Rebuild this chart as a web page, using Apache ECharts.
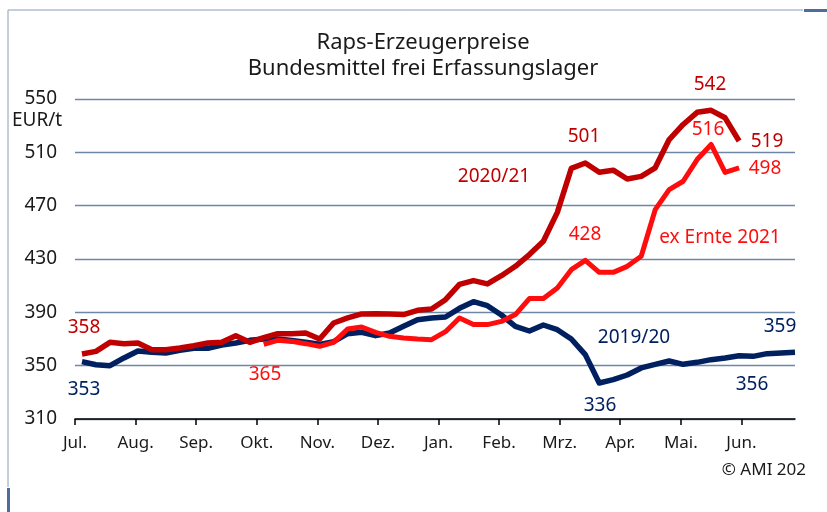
<!DOCTYPE html>
<html>
<head>
<meta charset="utf-8">
<script src="https://cdn.jsdelivr.net/npm/echarts@6/dist/echarts.min.js"></script>
<style>
  html, body { margin: 0; padding: 0; background: #fff; }
  #container { width: 827px; height: 512px; }
</style>
</head>
<body>
<div id="container"></div>
<script>
// Wochenwerte, EUR/t
const months = ['Jul.', 'Aug.', 'Sep.', 'Okt.', 'Nov.', 'Dez.', 'Jan.', 'Feb.', 'Mrz.', 'Apr.', 'Mai.', 'Jun.'];
const yTicks = [310, 350, 390, 430, 470, 510, 550];

const wj1920 = [353, 350.7, 350, 355.8, 361, 360, 359.5, 361.5, 363, 363, 365.5, 367, 369,
  370, 370, 368.8, 367.5, 366, 368, 374, 375, 372.5, 374.5, 379.5, 384.5, 385.8, 386.5,
  393, 398, 395, 388, 379.5, 376, 380.5, 377, 370, 358.3, 337, 339.5, 343, 348.3, 351,
  353.5, 351, 352.5, 354.5, 355.8, 357.5, 357, 359, 359.5, 360];

const wj2021 = [358.8, 360.7, 367.5, 366.5, 367, 362, 362, 363.3, 365, 367, 367.5, 372.5,
  367.5, 371, 374, 374, 374.5, 370, 382, 385.8, 388.8, 389, 388.8, 388.3, 391.5, 392.5,
  399.5, 411, 413.8, 411.3, 417.5, 424.5, 433.3, 443.3, 465, 498, 502, 495, 496.6, 490,
  492, 498.4, 519.6, 530.9, 540, 541.5, 535.9, 518.5];

// ex Ernte 2021 beginnt in Woche 13 (Anfang Okt.)
const exErnteStart = 13;
const exErnte2021 = [366, 369, 368.2, 366.5, 364.5, 367.5, 377.5, 379, 375, 372, 370.8, 370,
  369.5, 375.5, 385.8, 380.8, 380.8, 383.2, 388.3, 400.3, 400.3, 408.3, 422, 429, 420, 420,
  424.5, 432, 467, 482, 488.3, 504.6, 515.9, 495, 498.4];

const weeksPerMonth = 52 / 12;
const monthPos = months.map((m, i) => i * weeksPerMonth);

const toPairs = (arr, start) => arr.map((v, i) => [start + i + 0.5, v]);

const DARKRED = '#c00000';
const RED = '#ff0d0d';
const NAVY = '#002060';
const FONT = '"Noto Sans", sans-serif';

function note(text, x, y, color) {
  return {
    type: 'text', x: x, y: y,
    style: { text: text, fill: color, font: '19px ' + FONT, align: 'center', verticalAlign: 'middle' }
  };
}

const myChart = echarts.init(document.getElementById('container'));
myChart.setOption({
  animation: false,
  title: {
    text: 'Raps-Erzeugerpreise\nBundesmittel frei Erfassungslager',
    left: 418, top: 25, textAlign: 'center',
    textStyle: { fontFamily: FONT, fontSize: 22, fontWeight: 'normal', color: '#1a1a1a', lineHeight: 26 }
  },
  grid: { left: 75, right: 32, top: 99, bottom: 93 },
  xAxis: {
    type: 'value',
    min: 0,
    max: 51.5,
    splitLine: { show: false },
    axisLine: { show: true, lineStyle: { color: '#000', width: 1.5 } },
    axisTick: { show: true, length: 6, lineStyle: { color: '#000', width: 1.5 }, customValues: monthPos },
    axisLabel: {
      customValues: monthPos,
      formatter: v => months[Math.round(v / weeksPerMonth)] || '',
      color: '#1a1a1a', fontFamily: FONT, fontSize: 17, margin: 16
    }
  },
  yAxis: {
    type: 'value',
    min: yTicks[0],
    max: yTicks[yTicks.length - 1],
    interval: 40,
    axisLine: { show: false },
    axisTick: { show: false },
    axisLabel: { color: '#1a1a1a', fontFamily: FONT, fontSize: 19, margin: 18 },
    splitLine: { show: true, lineStyle: { color: '#6e87a6', width: 1.3 } }
  },
  series: [
    {
      name: '2019/20', type: 'line', data: toPairs(wj1920, 0), symbol: 'none',
      lineStyle: { color: NAVY, width: 5.5, join: 'round' }, z: 2
    },
    {
      name: '2020/21', type: 'line', data: toPairs(wj2021, 0), symbol: 'none',
      lineStyle: { color: DARKRED, width: 5.5, join: 'round' }, z: 3
    },
    {
      name: 'ex Ernte 2021', type: 'line', data: toPairs(exErnte2021, exErnteStart), symbol: 'none',
      lineStyle: { color: RED, width: 5, join: 'round' }, z: 4
    }
  ],
  graphic: [
    // Rahmen
    { type: 'line', shape: { x1: 8, y1: 10, x2: 803, y2: 10 }, style: { stroke: '#8a9cb6', lineWidth: 1 } },
    { type: 'line', shape: { x1: 8, y1: 10, x2: 8, y2: 487 }, style: { stroke: '#8a9cb6', lineWidth: 1 } },
    { type: 'rect', shape: { x: 804, y: 9, width: 23, height: 3 }, style: { fill: '#4d6d9c' } },
    { type: 'rect', shape: { x: 7, y: 488, width: 3, height: 24 }, style: { fill: '#4d6d9c' } },
    // Einheit
    { type: 'text', x: 12, y: 121, style: { text: 'EUR/t', fill: '#1a1a1a', font: '19px ' + FONT, align: 'left', verticalAlign: 'middle' } },
    // Quelle
    { type: 'text', x: 806, y: 470, style: { text: '\u00a9 AMI 202', fill: '#1a1a1a', font: '17px ' + FONT, align: 'right', verticalAlign: 'middle' } },
    // Beschriftungen
    note('358', 84, 328, DARKRED),
    note('353', 84, 390, NAVY),
    note('365', 265, 375, RED),
    note('2020/21', 494, 177, DARKRED),
    note('501', 584, 137, DARKRED),
    note('542', 710, 85, DARKRED),
    note('516', 708, 130, RED),
    note('519', 767, 142, DARKRED),
    note('498', 765, 169, RED),
    note('428', 585, 235, RED),
    note('ex Ernte 2021', 720, 238, RED),
    note('2019/20', 634, 338, NAVY),
    note('359', 780, 327, NAVY),
    note('336', 600, 406, NAVY),
    note('356', 752, 385, NAVY)
  ]
});
</script>
</body>
</html>
